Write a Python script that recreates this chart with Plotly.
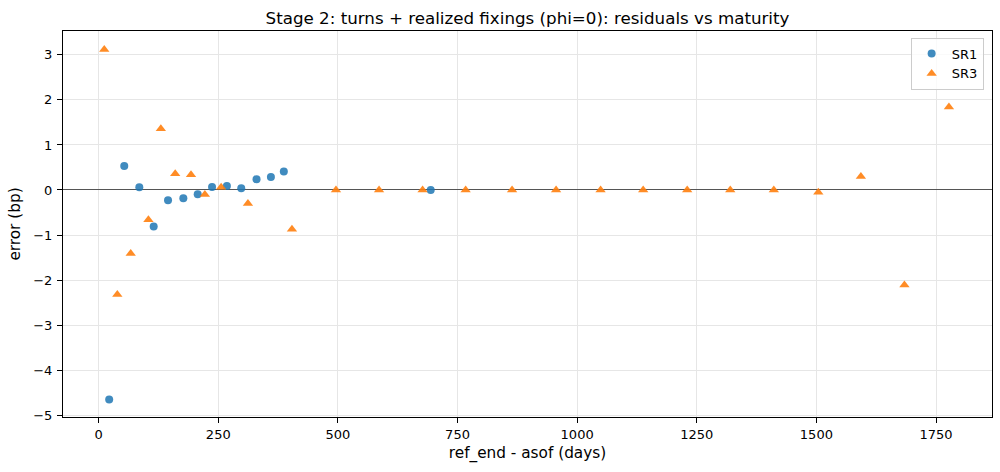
import plotly.graph_objects as go

# SR1 residuals (blue circles)
sr1_days = [22, 53.5, 85, 115, 145, 177, 207, 237, 268, 298, 330, 360, 387, 694]
sr1_err = [-4.65, 0.53, 0.06, -0.81, -0.23, -0.185, -0.096, 0.067, 0.089, 0.037, 0.24, 0.29, 0.41, 0.0]

# SR3 residuals (orange triangles)
sr3_days = [11.7, 39, 67, 104, 130, 160, 193, 222, 256, 312, 404, 496, 586, 677,
            767, 864, 956, 1049, 1138, 1230, 1320, 1411, 1504, 1593, 1684, 1777]
sr3_err = [3.12, -2.32, -1.41, -0.66, 1.36, 0.36, 0.34, -0.1, 0.06, -0.3, -0.87, 0.0, 0.0, 0.0,
           0.0, 0.0, 0.0, 0.0, 0.0, 0.0, 0.0, 0.0, -0.05, 0.30, -2.11, 1.84]

x_ticks = [0, 250, 500, 750, 1000, 1250, 1500, 1750]
y_ticks = [-5, -4, -3, -2, -1, 0, 1, 2, 3]

FONT = "DejaVu Sans"

fig = go.Figure()
fig.add_trace(go.Scatter(
    x=sr1_days, y=sr1_err, mode="markers", name="SR1",
    marker=dict(symbol="circle", size=8, color="#1f77b4", opacity=0.85, line=dict(width=0)),
))
fig.add_trace(go.Scatter(
    x=sr3_days, y=sr3_err, mode="markers", name="SR3",
    marker=dict(symbol="triangle-up", size=9, color="#ff7f0e", opacity=0.9, line=dict(width=0)),
))

fig.update_layout(
    width=1000, height=472,
    paper_bgcolor="white", plot_bgcolor="white",
    margin=dict(l=63, r=8, t=31, b=55, autoexpand=False),
    font=dict(family=FONT, size=13, color="black"),
    title=dict(text="Stage 2: turns + realized fixings (phi=0): residuals vs maturity",
               x=0.5, xref="paper", xanchor="center",
               y=1 - 18 / 472, yref="container", yanchor="middle",
               font=dict(family=FONT, size=16.7, color="black")),
    showlegend=True,
    legend=dict(x=0.991, y=0.983, xanchor="right", yanchor="top",
                bgcolor="rgba(255,255,255,0.8)", bordercolor="#cccccc", borderwidth=1,
                font=dict(family=FONT, size=13), itemwidth=30),
    xaxis=dict(
        range=[-74.5, 1867], tickvals=x_ticks, ticktext=[str(v) for v in x_ticks],
        automargin=False,
        showgrid=True, gridcolor="#e6e6e6", gridwidth=1, zeroline=False,
        showline=True, linecolor="black", linewidth=1, mirror=True,
        ticks="outside", ticklen=5, tickcolor="black", tickwidth=1,
        tickfont=dict(family=FONT, size=13),
        title=dict(text="ref_end - asof (days)", font=dict(family=FONT, size=15.3), standoff=6),
    ),
    yaxis=dict(
        range=[-5.04, 3.53], tickvals=y_ticks, ticktext=[("\u2212" + str(-v)) if v < 0 else str(v) for v in y_ticks],
        automargin=False,
        showgrid=True, gridcolor="#e6e6e6", gridwidth=1,
        zeroline=True, zerolinecolor="#555555", zerolinewidth=1.2,
        showline=True, linecolor="black", linewidth=1, mirror=True,
        ticks="outside", ticklen=5, tickcolor="black", tickwidth=1,
        ticklabelstandoff=2,
        tickfont=dict(family=FONT, size=13),
        title=dict(text="error (bp)", font=dict(family=FONT, size=15.3), standoff=8),
    ),
)

fig.write_html("out.html", config={"displayModeBar": False},
               post_script="document.body.style.margin='0';document.body.style.overflow='hidden';")
